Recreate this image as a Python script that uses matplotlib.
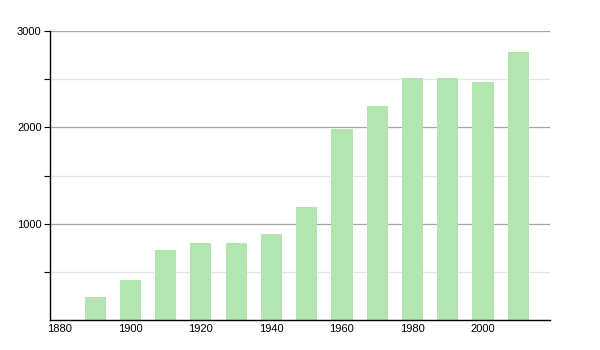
import matplotlib
matplotlib.use("Agg")
import matplotlib.pyplot as plt

plt.rcParams['font.family'] = ['Liberation Sans', 'DejaVu Sans']

# population by census year
years = [1890, 1900, 1910, 1920, 1930, 1940, 1950, 1960, 1970, 1980, 1990, 2000, 2010]
population = [240, 415, 727, 800, 800, 893, 1170, 1983, 2225, 2509, 2509, 2467, 2779]

x_ticks = [1880, 1900, 1920, 1940, 1960, 1980, 2000]
y_major = [1000, 2000, 3000]
y_minor = [500, 1500, 2500]

fig = plt.figure(figsize=(6, 3.5), dpi=100)
ax = fig.add_axes([50/600, 30/350, 500/600, 289/350])

for y in y_major:
    ax.axhline(y, color="#a4a4a4", lw=0.9, zorder=0)
for y in y_minor:
    ax.axhline(y, color="#e6e6e6", lw=0.9, zorder=0)

ax.bar(years, population, width=6, color="#b3e5b1", zorder=2)

ax.set_xlim(1877.2, 2019)
ax.set_ylim(0, 3000)
ax.set_xticks(x_ticks)
ax.set_yticks(y_major)
ax.set_yticks(y_minor, minor=True)
ax.tick_params(axis="x", length=0, pad=3, labelsize=8)
ax.tick_params(axis="y", which="both", length=4, width=0.8, pad=2, labelsize=8)

for side in ["top", "right"]:
    ax.spines[side].set_visible(False)
for side in ["left", "bottom"]:
    ax.spines[side].set_linewidth(1.0)
    ax.spines[side].set_color("black")

fig.savefig("out.png", dpi=100)
